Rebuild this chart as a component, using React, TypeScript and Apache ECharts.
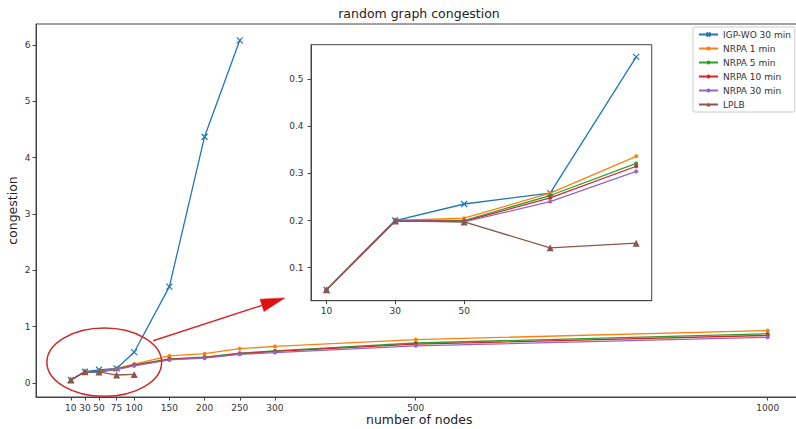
import React, { useEffect, useRef } from "react";
import * as echarts from "echarts";

const nodes = [10, 30, 50, 75, 100, 150, 200, 250, 300, 500, 1000];
const insetNodes = [10, 30, 50, 75, 100];
const xTicks = [10, 30, 50, 75, 100, 150, 200, 250, 300, 500, 1000];
const yTicks = [0, 1, 2, 3, 4, 5, 6];
const insetXTicks = [10, 30, 50];
const insetYTicks = [0.1, 0.2, 0.3, 0.4, 0.5];

const igpWo = [0.053, 0.2, 0.235, 0.258, 0.547, 1.71, 4.37, 6.08];
const nrpa1 = [0.053, 0.2, 0.205, 0.258, 0.336, 0.48, 0.52, 0.61, 0.65, 0.77, 0.93];
const nrpa5 = [0.053, 0.2, 0.2, 0.253, 0.321, 0.43, 0.46, 0.53, 0.57, 0.71, 0.875];
const nrpa10 = [0.053, 0.2, 0.198, 0.248, 0.315, 0.42, 0.45, 0.52, 0.56, 0.69, 0.845];
const nrpa30 = [0.053, 0.2, 0.197, 0.24, 0.304, 0.41, 0.44, 0.51, 0.54, 0.66, 0.81];
const lplb = [0.053, 0.199, 0.197, 0.142, 0.152];

const names = ["IGP-WO 30 min", "NRPA 1 min", "NRPA 5 min", "NRPA 10 min", "NRPA 30 min", "LPLB"];
const colors = ["#1f77b4", "#ff7f0e", "#2ca02c", "#d62728", "#9467bd", "#8c564b"];
const values = [igpWo, nrpa1, nrpa5, nrpa10, nrpa30, lplb];
const XMARK = "path://M0,0L10,10M10,0L0,10";

const FONT = "DejaVu Sans";

export default function App() {
  const ref = useRef<HTMLDivElement>(null);
  useEffect(() => {
    const chart = echarts.init(ref.current!, undefined, { renderer: "svg" });
    const symbolFor = (i: number) => (i === 0 ? XMARK : i === 5 ? "triangle" : "circle");
    const sizeFor = (i: number) => (i === 0 ? 6 : i === 5 ? 7 : 4);
    const mk = (i: number, xs: number[], idx: number) => ({
      name: names[i],
      type: "line",
      xAxisIndex: idx,
      yAxisIndex: idx,
      data: values[i].map((v, k) => [xs[k], v]).filter((_, k) => idx === 0 || k < insetNodes.length),
      symbol: symbolFor(i),
      symbolSize: sizeFor(i),
      showSymbol: true,
      lineStyle: { color: colors[i], width: 1.3 },
      itemStyle: { color: i === 0 ? "rgba(0,0,0,0)" : colors[i], borderColor: colors[i], borderWidth: i === 0 ? 1.2 : 0 },
      z: 3 + idx * 10,
    });
    const axisTxt = { color: "#333", fontSize: 9, fontFamily: FONT };
    const plain = (v: number) => String(v);
    const axisLine = { show: true, onZero: false, lineStyle: { color: "#444" } };
    const option: any = {
      animation: false,
      backgroundColor: "#fff",
      title: {
        text: "random graph congestion",
        left: 419,
        top: 7,
        padding: 0,
        textAlign: "center",
        textStyle: { fontSize: 12.5, fontWeight: "normal", color: "#222", fontFamily: FONT },
      },
      legend: {
        data: names,
        orient: "vertical",
        left: 693,
        top: 27,
        padding: [2, 4, 2, 5],
        itemGap: 3,
        itemWidth: 19,
        itemHeight: 5,
        backgroundColor: "#fff",
        borderColor: "#ccc",
        borderWidth: 1,
        borderRadius: 2,
        textStyle: { fontSize: 9, color: "#333", fontFamily: FONT, lineHeight: 11 },
        z: 20,
      },
      grid: [
        { left: 36, top: 24, width: 766.5, height: 373, show: true, borderColor: "#444", borderWidth: 1, backgroundColor: "#fff", outerBoundsMode: "none", containLabel: false },
        { left: 311, top: 44.7, width: 340.7, height: 256, show: true, borderColor: "#444", borderWidth: 1, backgroundColor: "#fff", z: 10, outerBoundsMode: "none", containLabel: false },
      ],
      xAxis: [
        {
          type: "value",
          gridIndex: 0,
          min: -39.5,
          max: 1049.5,
          name: "number of nodes",
          nameLocation: "middle",
          nameGap: 16,
          nameMoveOverlap: false,
          nameTextStyle: { fontSize: 12.5, color: "#222", fontFamily: FONT },
          axisLine,
          axisTick: { customValues: xTicks, length: 3.5, lineStyle: { color: "#444" } },
          axisLabel: { customValues: xTicks, margin: 6, formatter: plain, ...axisTxt },
          splitLine: { show: false },
        },
        {
          type: "value",
          gridIndex: 1,
          min: 5.5,
          max: 104.5,
          axisLine,
          axisTick: { customValues: insetXTicks, length: 3.5, lineStyle: { color: "#444" } },
          axisLabel: { customValues: insetXTicks, margin: 6, formatter: plain, ...axisTxt },
          splitLine: { show: false },
          z: 10,
        },
      ],
      yAxis: [
        {
          type: "value",
          gridIndex: 0,
          min: -0.248,
          max: 6.37,
          name: "congestion",
          nameLocation: "middle",
          nameGap: 17,
          nameMoveOverlap: false,
          nameTextStyle: { fontSize: 12.5, color: "#222", fontFamily: FONT },
          axisLine,
          axisTick: { show: true, customValues: yTicks, length: 3.5, lineStyle: { color: "#444" } },
          axisLabel: { customValues: yTicks, margin: 5.5, formatter: plain, ...axisTxt },
          splitLine: { show: false },
        },
        {
          type: "value",
          gridIndex: 1,
          min: 0.03,
          max: 0.5727,
          axisLine,
          axisTick: { show: true, customValues: insetYTicks, length: 3.5, lineStyle: { color: "#444" } },
          axisLabel: { customValues: insetYTicks, margin: 7.5, formatter: (v: number) => v.toFixed(1), ...axisTxt },
          splitLine: { show: false },
          z: 10,
        },
      ],
      series: [
        ...names.map((_, i) => mk(i, nodes, 0)),
        ...names.map((_, i) => mk(i, insetNodes, 1)),
      ],
    };
    chart.setOption(option);

    // annotation: ellipse around small-node region and arrow to inset (data coords of main axes)
    const ellipseCenter = [57.5, 0.37];
    const ellipseEdge = [139, 0.975];
    const arrowFrom = [127, 0.75];
    const arrowTo = [314, 1.51];
    const p = (d: number[]) => chart.convertToPixel({ gridIndex: 0 }, d) as number[];
    const c = p(ellipseCenter);
    const e = p(ellipseEdge);
    const a0 = p(arrowFrom);
    const a1 = p(arrowTo);
    const dx = a1[0] - a0[0];
    const dy = a1[1] - a0[1];
    const len = Math.hypot(dx, dy);
    const ux = dx / len;
    const uy = dy / len;
    const headL = 24;
    const headW = 6.5;
    const bx = a1[0] - ux * headL;
    const by = a1[1] - uy * headL;
    chart.setOption({
      graphic: [
        {
          type: "ellipse",
          shape: { cx: c[0], cy: c[1], rx: e[0] - c[0], ry: c[1] - e[1] },
          style: { fill: "none", stroke: "#cc2a2a", lineWidth: 1.5 },
          z: 30,
        },
        {
          type: "line",
          shape: { x1: a0[0], y1: a0[1], x2: bx, y2: by },
          style: { stroke: "#d62a2a", lineWidth: 1.5 },
          z: 30,
        },
        {
          type: "polygon",
          shape: {
            points: [
              [a1[0], a1[1]],
              [bx - uy * headW, by + ux * headW],
              [bx + uy * headW, by - ux * headW],
            ],
          },
          style: { fill: "#e01010", stroke: "#e01010", lineWidth: 0.5 },
          z: 30,
        },
      ],
    });
    return () => chart.dispose();
  }, []);
  return <div ref={ref} style={{ position: "fixed", left: 0, top: 0, width: 796, height: 429 }} />;
}
